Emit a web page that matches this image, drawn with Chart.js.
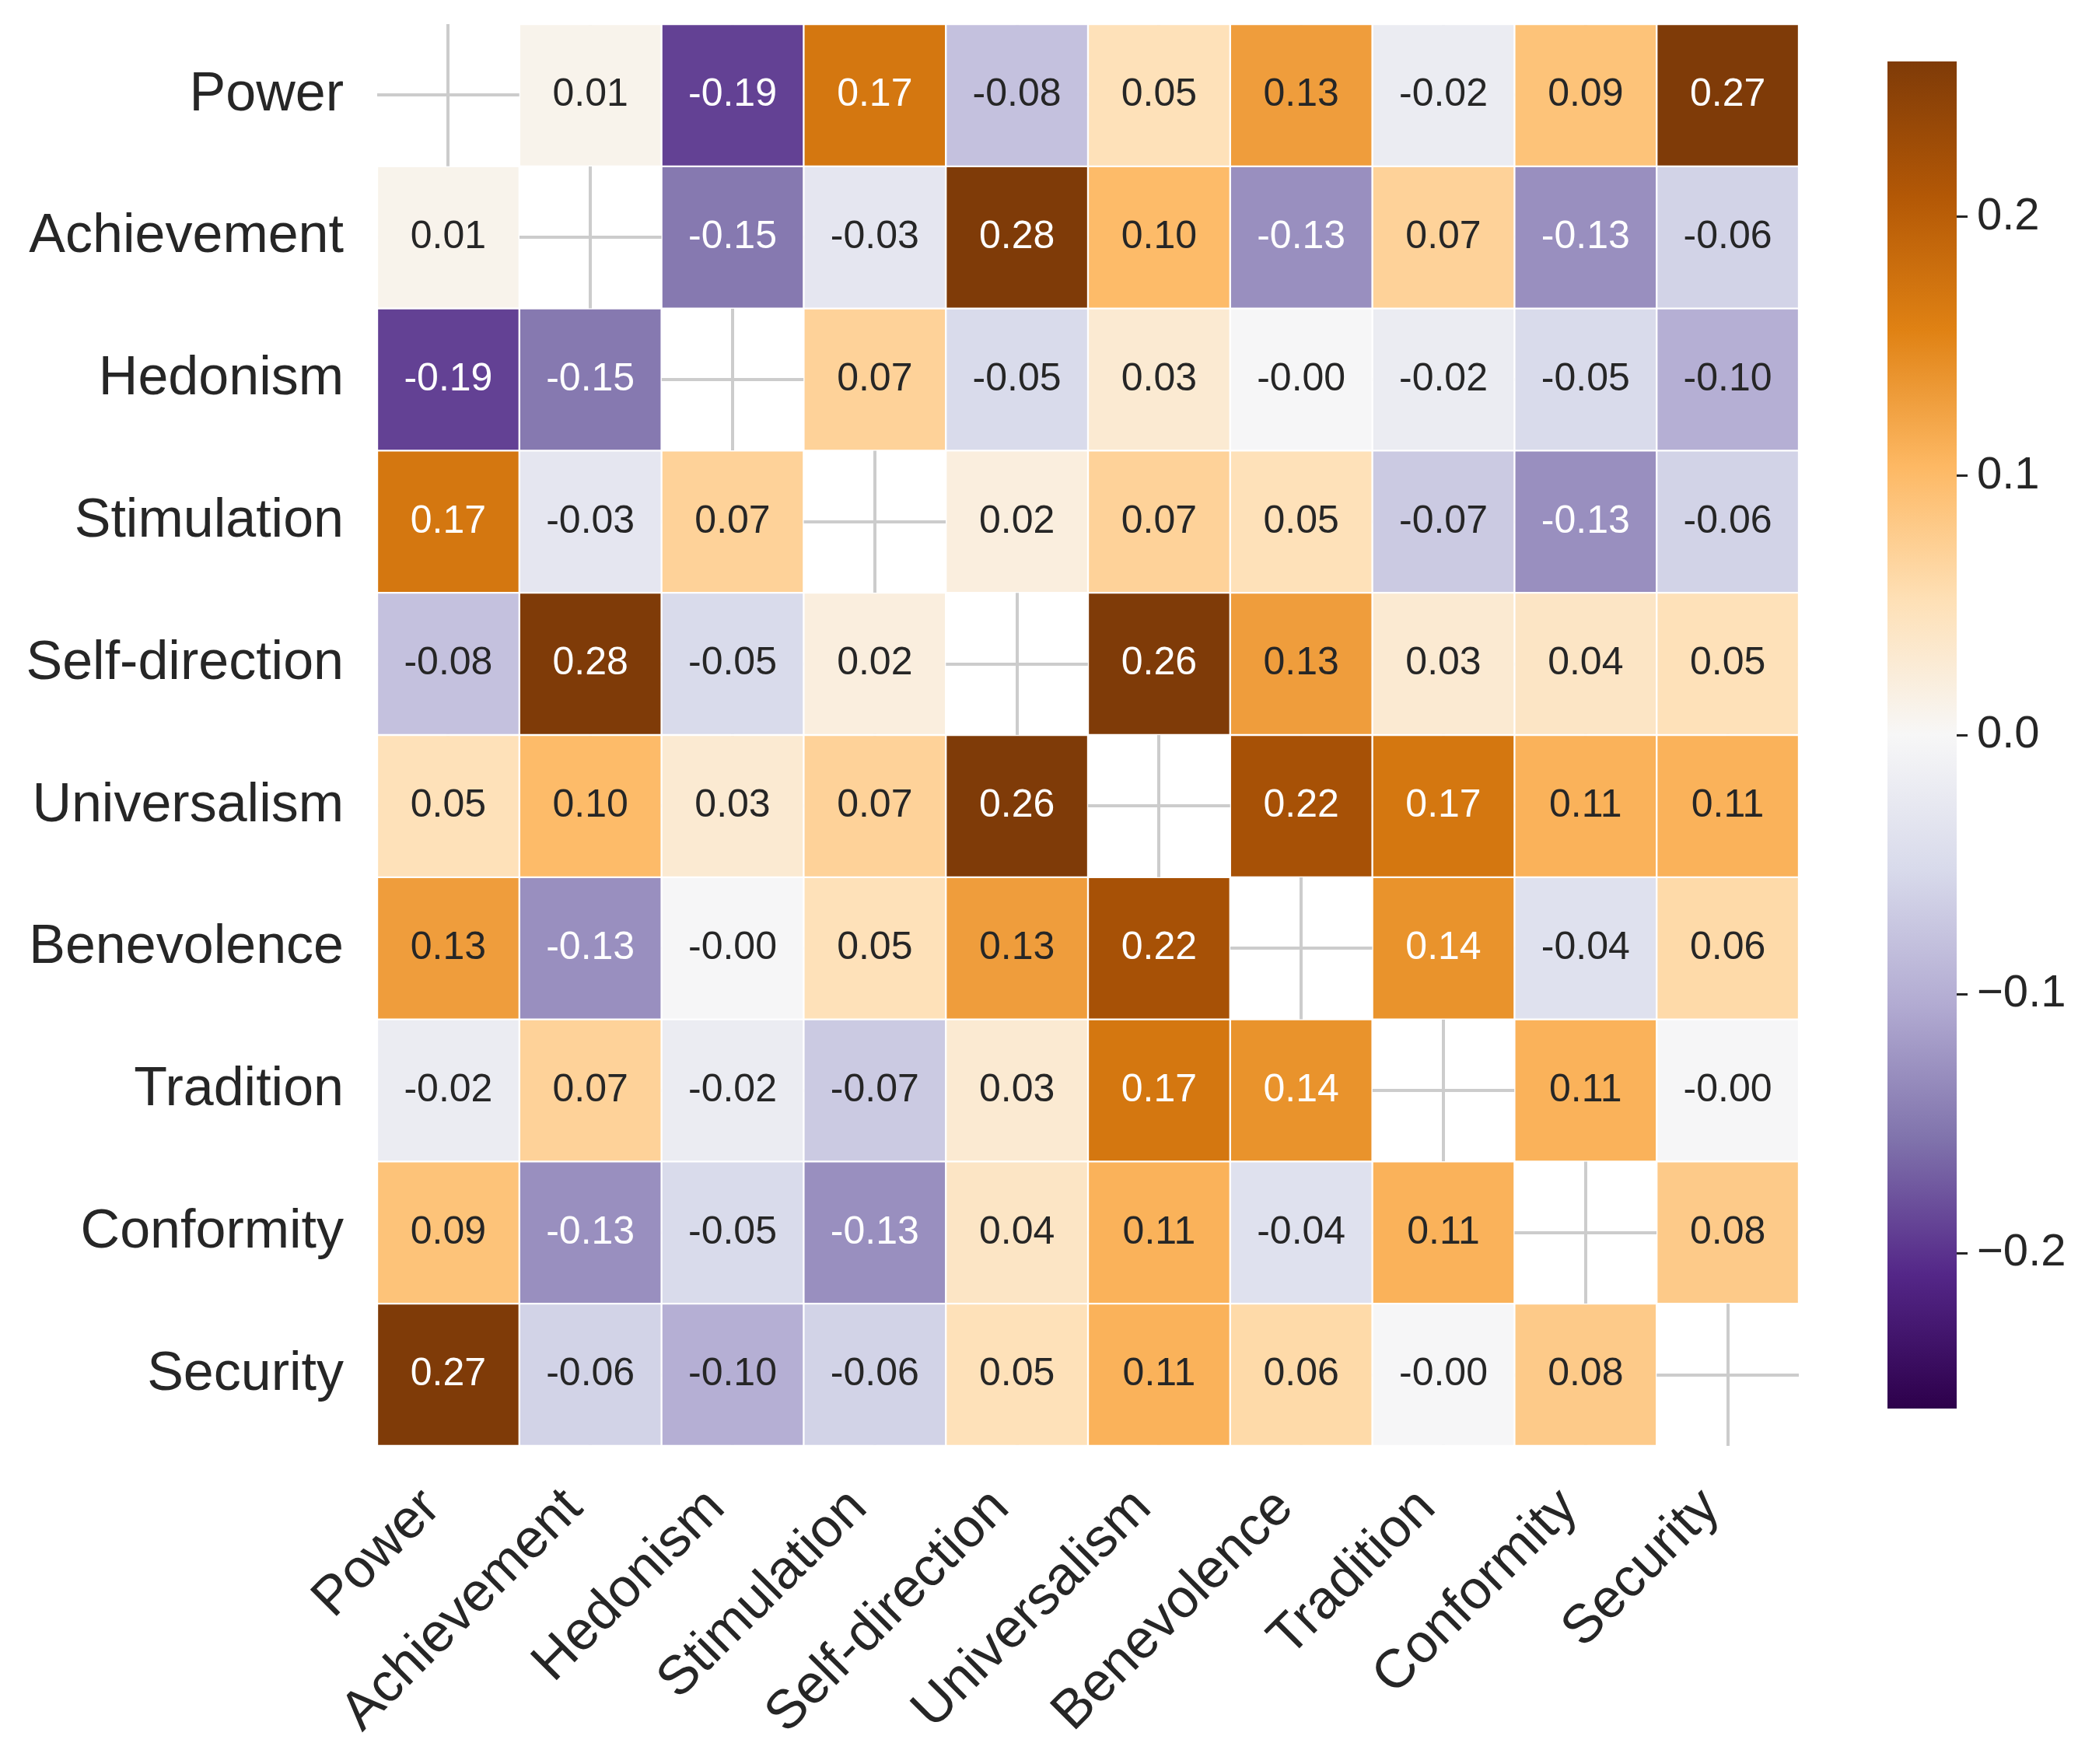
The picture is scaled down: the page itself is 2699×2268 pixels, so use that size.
<!DOCTYPE html>
<html>
<head>
<meta charset="utf-8">
<script src="https://cdn.jsdelivr.net/npm/chart.js@4.4.1/dist/chart.umd.min.js"></script>
<style>
  body { margin: 0; background: #fff; }
  #wrap { position: relative; width: 2699px; height: 2268px; }
  canvas { position: absolute; left: 0; top: 0; }
</style>
</head>
<body>
<div id="wrap">
  <canvas id="heat" width="2699" height="2268"></canvas>
  <canvas id="cbar" width="2699" height="2268"></canvas>
</div>
<script>
// value names, same order on both axes
const values = ['Power', 'Achievement', 'Hedonism', 'Stimulation', 'Self-direction',
  'Universalism', 'Benevolence', 'Tradition', 'Conformity', 'Security'];

// correlation rows (diagonal masked). -0.001 is what prints as "-0.00"
const power        = [null, 0.01, -0.19, 0.17, -0.08, 0.05, 0.13, -0.02, 0.09, 0.27];
const achievement  = [0.01, null, -0.15, -0.03, 0.28, 0.10, -0.13, 0.07, -0.13, -0.06];
const hedonism     = [-0.19, -0.15, null, 0.07, -0.05, 0.03, -0.001, -0.02, -0.05, -0.10];
const stimulation  = [0.17, -0.03, 0.07, null, 0.02, 0.07, 0.05, -0.07, -0.13, -0.06];
const selfDir      = [-0.08, 0.28, -0.05, 0.02, null, 0.26, 0.13, 0.03, 0.04, 0.05];
const universalism = [0.05, 0.10, 0.03, 0.07, 0.26, null, 0.22, 0.17, 0.11, 0.11];
const benevolence  = [0.13, -0.13, -0.001, 0.05, 0.13, 0.22, null, 0.14, -0.04, 0.06];
const tradition    = [-0.02, 0.07, -0.02, -0.07, 0.03, 0.17, 0.14, null, 0.11, -0.001];
const conformity   = [0.09, -0.13, -0.05, -0.13, 0.04, 0.11, -0.04, 0.11, null, 0.08];
const security     = [0.27, -0.06, -0.10, -0.06, 0.05, 0.11, 0.06, -0.001, 0.08, null];
const matrix = [power, achievement, hedonism, stimulation, selfDir,
  universalism, benevolence, tradition, conformity, security];

// colour scale limits and colorbar ticks
const vmin = -0.26, vmax = 0.26;
const cbarTicks = [-0.2, -0.1, 0.0, 0.1, 0.2];

// PuOr reversed (low = purple, high = brown)
const puorR = ['#2d004b', '#542788', '#8073ac', '#b2abd2', '#d8daeb', '#f7f7f7',
  '#fee0b6', '#fdb863', '#e08214', '#b35806', '#7f3b08'];

const FONT = '"Liberation Sans", Arial, sans-serif';
const DARK = '#262626';
Chart.defaults.font.family = FONT;
Chart.defaults.color = DARK;

function hexRgb(h) {
  return [parseInt(h.slice(1, 3), 16), parseInt(h.slice(3, 5), 16), parseInt(h.slice(5, 7), 16)];
}

function colorFor(v) {
  let t = (v - vmin) / (vmax - vmin);
  t = Math.max(0, Math.min(1, t)) * (puorR.length - 1);
  const i = Math.min(Math.floor(t), puorR.length - 2);
  const f = t - i;
  const a = hexRgb(puorR[i]), b = hexRgb(puorR[i + 1]);
  return a.map((c, k) => Math.round(c + (b[k] - c) * f));
}

// seaborn picks white text on dark cells
function textColorFor(rgb) {
  const lin = rgb.map(c => {
    c = c / 255;
    return c <= 0.03928 ? c / 12.92 : Math.pow((c + 0.055) / 1.055, 2.4);
  });
  const lum = 0.2126 * lin[0] + 0.7152 * lin[1] + 0.0722 * lin[2];
  return lum > 0.408 ? DARK : '#ffffff';
}

// one floating-bar dataset per row, spanning [i, i+1] on the y axis
const datasets = matrix.map((row, i) => ({
  label: values[i],
  data: row.map(v => v === null ? null : [i, i + 1]),
  backgroundColor: row.map(v => v === null ? 'rgba(0,0,0,0)' : 'rgb(' + colorFor(v).join(',') + ')'),
  borderColor: '#ffffff',
  borderWidth: 1.5,
  borderSkipped: false,
  barPercentage: 1,
  categoryPercentage: 1
}));

const annotate = {
  id: 'annotate',
  afterDatasetsDraw(chart) {
    const ctx = chart.ctx;
    ctx.save();
    ctx.font = '50px ' + FONT;
    ctx.textAlign = 'center';
    ctx.textBaseline = 'middle';
    matrix.forEach((row, i) => {
      const meta = chart.getDatasetMeta(i);
      row.forEach((v, j) => {
        if (v === null) return;
        const el = meta.data[j];
        ctx.fillStyle = textColorFor(colorFor(v));
        ctx.fillText(v.toFixed(2), el.x, (el.y + el.base) / 2);
      });
    });
    ctx.restore();
  }
};

new Chart(document.getElementById('heat'), {
  type: 'bar',
  data: { labels: values, datasets: datasets },
  plugins: [annotate],
  options: {
    responsive: false,
    animation: false,
    devicePixelRatio: 1,
    layout: { autoPadding: false, padding: { left: 0, top: 31, right: 386, bottom: 0 } },
    plugins: { legend: { display: false }, tooltip: { enabled: false } },
    scales: {
      x: {
        type: 'category',
        stacked: true,
        offset: true,
        grid: { offset: false, color: '#cccccc', lineWidth: 4, drawTicks: false },
        border: { display: false },
        ticks: { autoSkip: false, minRotation: 45, maxRotation: 45, padding: 39, labelOffset: -21,
                 font: { size: 70 }, color: DARK },
        afterFit(scale) {
          scale.height = 2268 - 1859;
          scale.paddingLeft = 0;
          scale.paddingRight = 0;
        }
      },
      y: {
        type: 'linear',
        stacked: false,
        min: 0,
        max: 10,
        reverse: true,
        grid: { color: '#cccccc', lineWidth: 4, drawTicks: false },
        border: { display: false },
        afterBuildTicks(scale) { scale.ticks = values.map((_, i) => ({ value: i + 0.5 })); },
        ticks: { padding: 43, font: { size: 70 }, color: DARK,
                 callback: (v, i) => values[i] },
        afterFit(scale) {
          scale.width = 485;
          scale.paddingTop = 0;
          scale.paddingBottom = 0;
        }
      }
    }
  }
});

// colorbar: one floating bar filled with the colormap gradient
new Chart(document.getElementById('cbar'), {
  type: 'bar',
  data: {
    labels: ['cbar'],
    datasets: [{
      data: [[vmin, vmax]],
      backgroundColor(c) {
        const area = c.chart.chartArea;
        if (!area) return puorR[5];
        const g = c.chart.ctx.createLinearGradient(0, area.bottom, 0, area.top);
        puorR.forEach((col, k) => g.addColorStop(k / (puorR.length - 1), col));
        return g;
      },
      borderWidth: 0,
      barPercentage: 1,
      categoryPercentage: 1
    }]
  },
  options: {
    responsive: false,
    animation: false,
    devicePixelRatio: 1,
    layout: { autoPadding: false, padding: { left: 2427, top: 79, bottom: 2268 - 1811, right: 0 } },
    plugins: { legend: { display: false }, tooltip: { enabled: false } },
    scales: {
      x: { display: false },
      y: {
        position: 'right',
        min: vmin,
        max: vmax,
        grid: { drawOnChartArea: false, drawTicks: true, tickLength: 14, tickWidth: 3, tickColor: DARK },
        border: { display: false },
        afterBuildTicks(scale) { scale.ticks = cbarTicks.map(v => ({ value: v })); },
        ticks: { padding: 12, font: { size: 58 }, color: DARK,
                 callback: v => (v < 0 ? '\u2212' : '') + Math.abs(v).toFixed(1) },
        afterFit(scale) {
          scale.width = 2699 - 2516;
          scale.paddingTop = 0;
          scale.paddingBottom = 0;
        }
      }
    }
  }
});
</script>
</body>
</html>
